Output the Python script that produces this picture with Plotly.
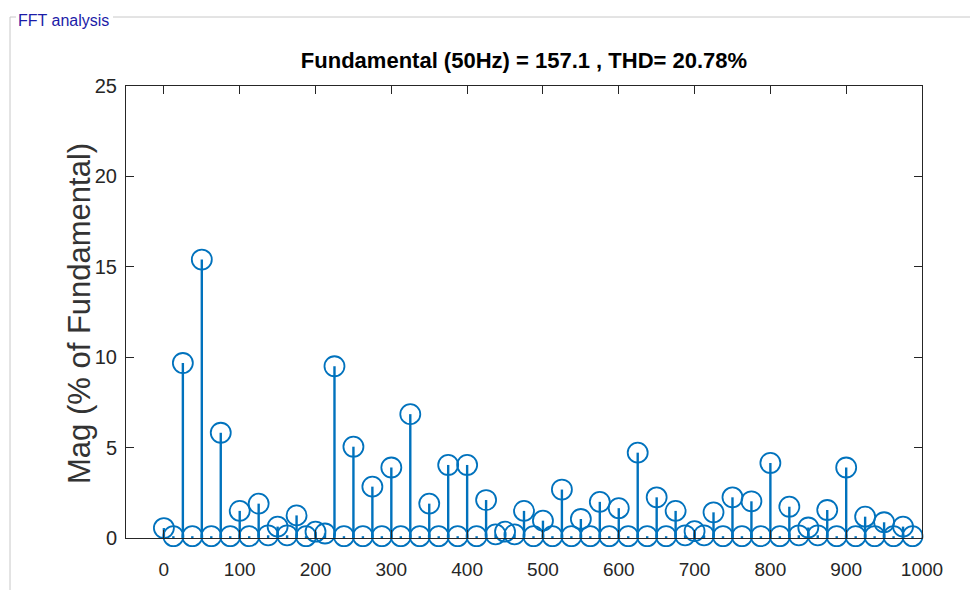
import plotly.graph_objects as go

# Frequency bins (Hz) and magnitudes (% of fundamental)
freq_hz = [0, 12.5, 25, 37.5, 50, 62.5, 75, 87.5, 100, 112.5,
           125, 137.5, 150, 162.5, 175, 187.5, 200, 212.5, 225, 237.5,
           250, 262.5, 275, 287.5, 300, 312.5, 325, 337.5, 350, 362.5,
           375, 387.5, 400, 412.5, 425, 437.5, 450, 462.5, 475, 487.5,
           500, 512.5, 525, 537.5, 550, 562.5, 575, 587.5, 600, 612.5,
           625, 637.5, 650, 662.5, 675, 687.5, 700, 712.5, 725, 737.5,
           750, 762.5, 775, 787.5, 800, 812.5, 825, 837.5, 850, 862.5,
           875, 887.5, 900, 912.5, 925, 937.5, 950, 962.5, 975, 987.5]
mag_pct = [0.55, 0.1, 9.68, 0.1, 15.4, 0.1, 5.82, 0.1, 1.5, 0.1,
           1.9, 0.15, 0.63, 0.15, 1.25, 0.1, 0.35, 0.25, 9.5, 0.1,
           5.05, 0.1, 2.84, 0.1, 3.9, 0.1, 6.85, 0.1, 1.9, 0.1,
           4.04, 0.1, 4.04, 0.1, 2.1, 0.2, 0.35, 0.2, 1.5, 0.1,
           0.96, 0.1, 2.68, 0.1, 1.05, 0.1, 2.0, 0.1, 1.65, 0.1,
           4.72, 0.1, 2.25, 0.1, 1.5, 0.15, 0.38, 0.15, 1.42, 0.1,
           2.25, 0.1, 2.03, 0.1, 4.15, 0.1, 1.73, 0.15, 0.58, 0.15,
           1.55, 0.1, 3.9, 0.1, 1.18, 0.1, 0.87, 0.1, 0.63, 0.1]
x_ticks = [0, 100, 200, 300, 400, 500, 600, 700, 800, 900, 1000]
y_ticks = [0, 5, 10, 15, 20, 25]

title_text = "Fundamental (50Hz) = 157.1 , THD= 20.78%"
ylabel_text = "Mag (% of Fundamental)"
panel_text = "FFT analysis"

BLUE = "#0072BD"
AX = "#262626"
FONT = "Liberation Sans, Arial, sans-serif"

W, H = 978, 590
OFF = 8  # page offset of the plot div
L, R, T, B = 126 - OFF, 922 - OFF, 86 - OFF, 538 - OFF


def px(xp):
    return (xp - OFF - L) / (R - L)


def py(yp):
    return (B - (yp - OFF)) / (B - T)


fig = go.Figure()
fig.add_trace(go.Scatter(
    x=freq_hz, y=mag_pct, mode="markers",
    marker=dict(symbol="circle-open", size=20, color=BLUE,
                line=dict(width=1.8, color=BLUE)),
    error_y=dict(type="data", symmetric=False,
                 array=[0] * len(mag_pct), arrayminus=mag_pct,
                 width=0, thickness=2.4, color=BLUE),
    cliponaxis=False, showlegend=False, hoverinfo="x+y",
))

fig.update_layout(
    width=W, height=H,
    margin=dict(l=L, r=W - R, t=T, b=H - B, pad=0),
    paper_bgcolor="white", plot_bgcolor="white",
    title=dict(text=title_text, x=(L + R) / 2 / W, xanchor="center",
               y=1 - (60 - OFF) / H, yanchor="middle", yref="container",
               font=dict(family=FONT, size=22, color="#000000", weight="bold")),
    xaxis=dict(range=[-50, 1000], tickmode="array", tickvals=x_ticks,
               ticks="inside", ticklen=8, tickwidth=1, tickcolor=AX,
               showline=True, linecolor=AX, linewidth=1, mirror="ticks",
               showgrid=False, zeroline=False, ticklabelstandoff=14,
               tickfont=dict(family=FONT, size=19, color=AX)),
    yaxis=dict(range=[0, 25], tickmode="array", tickvals=y_ticks,
               ticks="inside", ticklen=8, tickwidth=1, tickcolor=AX,
               showline=True, linecolor=AX, linewidth=1, mirror="ticks",
               showgrid=False, zeroline=False, ticklabelstandoff=4,
               tickfont=dict(family=FONT, size=20, color=AX)),
    annotations=[
        dict(text=ylabel_text, textangle=-90, x=px(79), y=py(314),
             xref="paper", yref="paper", xanchor="center", yanchor="middle",
             showarrow=False, font=dict(family=FONT, size=31, color="#333333")),
        dict(text=panel_text, x=px(16), y=py(20), xref="paper", yref="paper",
             xanchor="left", yanchor="middle", showarrow=False,
             font=dict(family=FONT, size=16, color="#1c1ca8")),
    ],
    shapes=[
        dict(type="line", xref="paper", yref="paper", x0=px(10), x1=px(10),
             y0=py(17), y1=py(600), line=dict(color="#c8c8c8", width=1)),
        dict(type="line", xref="paper", yref="paper", x0=px(10), x1=px(16),
             y0=py(17), y1=py(17), line=dict(color="#c8c8c8", width=1)),
        dict(type="line", xref="paper", yref="paper", x0=px(113), x1=px(990),
             y0=py(17), y1=py(17), line=dict(color="#c8c8c8", width=1)),
    ],
)

fig.write_html("out.html")
